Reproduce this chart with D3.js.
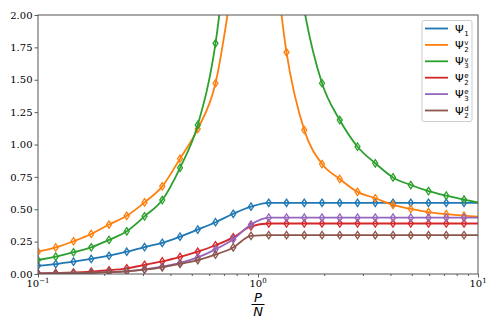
<!DOCTYPE html>
<meta charset="utf-8">
<head>
	<title>Psi overlaps vs P/N</title>
	<script src="https://cdn.jsdelivr.net/npm/d3@7"></script>
	<style>
		body { margin: 0; background: #fff; }
		svg { display: block; }
	</style>
</head>
<body>
<script>

	// x values (P/N); the first 25 carry a marker, the last one only closes the line
	const alpha = [0.1, 0.1204, 0.145, 0.1746, 0.2103, 0.2532, 0.3049, 0.3671, 0.4421, 0.5323,
		0.641, 0.7718, 0.9294, 1.1192, 1.3476, 1.6228, 1.9541, 2.3531, 2.8335, 3.412,
		4.1086, 4.9474, 5.9575, 7.1738, 8.6385, 10];
	const markerCount = 25;

	// series (null = gap at the divergence)
	const psi1 = [0.064, 0.077, 0.095, 0.116, 0.141, 0.172, 0.208, 0.24, 0.288, 0.343,
		0.4, 0.465, 0.52, 0.55, 0.55, 0.55, 0.55, 0.55, 0.55, 0.55,
		0.55, 0.55, 0.55, 0.55, 0.55, 0.55];
	const psi2v = [0.172, 0.205, 0.253, 0.309, 0.382, 0.449, 0.553, 0.677, 0.89, 1.12,
		1.473, 2.3, null, 2.9, 1.712, 1.112, 0.849, 0.734, 0.634, 0.585,
		0.533, 0.502, 0.478, 0.462, 0.45, 0.443];
	const psi3v = [0.108, 0.134, 0.168, 0.206, 0.263, 0.33, 0.445, 0.571, 0.82, 1.151,
		1.781, 3.0, null, null, 3.0, 2.04, 1.473, 1.189, 0.983, 0.855,
		0.746, 0.687, 0.64, 0.605, 0.575, 0.552];
	const psi2e = [0.005, 0.008, 0.012, 0.019, 0.029, 0.044, 0.07, 0.097, 0.132, 0.172,
		0.222, 0.283, 0.367, 0.39, 0.39, 0.39, 0.39, 0.39, 0.39, 0.39,
		0.39, 0.39, 0.39, 0.39, 0.39, 0.39];
	const psi3e = [0.003, 0.004, 0.006, 0.009, 0.014, 0.022, 0.036, 0.056, 0.085, 0.128,
		0.19, 0.268, 0.382, 0.435, 0.435, 0.435, 0.435, 0.435, 0.435, 0.435,
		0.435, 0.435, 0.435, 0.435, 0.435, 0.435];
	const psi2d = [0.003, 0.004, 0.006, 0.009, 0.014, 0.021, 0.034, 0.052, 0.078, 0.108,
		0.15, 0.205, 0.295, 0.3, 0.3, 0.3, 0.3, 0.3, 0.3, 0.3,
		0.3, 0.3, 0.3, 0.3, 0.3, 0.3];

	const seriesValues = [psi1, psi2v, psi3v, psi2e, psi3e, psi2d];
	const legendSub = ['1', '2', '3', '2', '3', '2'];
	const legendSup = ['', 'v', 'v', 'e', 'e', 'd'];
	const colors = ['#1f77b4', '#ff7f0e', '#2ca02c', '#d62728', '#9467bd', '#8c564b'];

	const yTicks = [0, 0.25, 0.5, 0.75, 1, 1.25, 1.5, 1.75, 2];
	const xMajor = [0.1, 1, 10];
	const xMajorExp = ['\u22121', '0', '1'];

	const W = 498, H = 332;
	const margin = {top: 15, right: 20, bottom: 58, left: 38};
	const width = W - margin.left - margin.right;
	const height = H - margin.top - margin.bottom;

	const svg = d3.select('body').append('svg')
		.attr('width', W)
		.attr('height', H);

	const x = d3.scaleLog().domain([0.1, 10]).range([0, width]);
	const y = d3.scaleLinear().domain([0, 2]).range([height, 0]);

	const g = svg.append('g')
		.attr('transform', `translate(${margin.left},${margin.top})`);

	svg.append('defs').append('clipPath')
		.attr('id', 'plotclip')
		.append('rect')
		.attr('width', width)
		.attr('height', height);

	// minor x ticks
	const minor = [];
	[0.1, 1].forEach(b => { for (let k = 2; k <= 9; k++) minor.push(b * k); });

	const xAxis = d3.axisBottom(x).tickValues(xMajor).tickFormat('').tickSize(3.5);
	const xMinor = d3.axisBottom(x).tickValues(minor).tickFormat('').tickSize(2);
	const yAxis = d3.axisLeft(y).tickValues(yTicks).tickFormat(d3.format('.2f')).tickSize(3.5).tickPadding(2);

	g.append('g').attr('transform', `translate(0,${height})`).call(xMinor)
		.call(a => a.select('.domain').remove());
	const gx = g.append('g').attr('transform', `translate(0,${height})`).call(xAxis);
	gx.select('.domain').remove();

	const gy = g.append('g').call(yAxis);
	gy.select('.domain').remove();
	gy.selectAll('text')
		.style('font-family', '"DejaVu Serif", serif')
		.style('font-size', '10px')
		.attr('fill', '#000');

	g.selectAll('.tick line').attr('stroke', '#333').attr('stroke-width', 0.8);

	// log tick labels 10^n
	const xl = g.append('g').attr('class', 'xlabels');
	xMajor.forEach((v, i) => {
		const t = xl.append('text')
			.attr('x', x(v))
			.attr('y', height + 13)
			.attr('text-anchor', 'middle')
			.style('font-family', '"DejaVu Serif", serif')
			.style('font-size', '10px');
		t.append('tspan').text('10');
		t.append('tspan').attr('dy', -4.5).style('font-size', '7px').text(xMajorExp[i]);
	});

	// x label P / N
	const lx = margin.left + width / 2;
	svg.append('text')
		.attr('x', lx).attr('y', 301.5)
		.attr('text-anchor', 'middle')
		.style('font-family', '"DejaVu Sans", sans-serif')
		.style('font-style', 'italic')
		.style('font-size', '13px')
		.text('P');
	svg.append('line')
		.attr('x1', lx - 6.5).attr('x2', lx + 6.5)
		.attr('y1', 304.5).attr('y2', 304.5)
		.attr('stroke', '#000').attr('stroke-width', 1);
	svg.append('text')
		.attr('x', lx).attr('y', 315.5)
		.attr('text-anchor', 'middle')
		.style('font-family', '"DejaVu Sans", sans-serif')
		.style('font-style', 'italic')
		.style('font-size', '13px')
		.text('N');

	// curves
	const plot = g.append('g').attr('clip-path', 'url(#plotclip)');

	const line = d3.line()
		.defined(d => d.v !== null)
		.x(d => x(d.a))
		.y(d => y(d.v))
		.curve(d3.curveMonotoneX);

	const diamond = 'M0,-3.7L2.5,0L0,3.7L-2.5,0Z';

	seriesValues.forEach((vals, s) => {
		const pts = alpha.map((a, i) => ({a: a, v: vals[i], i: i}));
		plot.append('path')
			.datum(pts)
			.attr('d', line)
			.attr('fill', 'none')
			.attr('stroke', colors[s])
			.attr('stroke-width', 1.8);
		plot.append('g')
			.selectAll('path')
			.data(pts.filter(d => d.i < markerCount && d.v !== null))
			.enter().append('path')
				.attr('d', diamond)
				.attr('transform', d => `translate(${x(d.a)},${y(d.v)})`)
				.attr('fill', 'none')
				.attr('stroke', colors[s])
				.attr('stroke-width', 1.3);
	});

	// frame
	g.append('rect')
		.attr('width', width)
		.attr('height', height)
		.attr('fill', 'none')
		.attr('stroke', '#555')
		.attr('stroke-width', 1);

	// legend
	const leg = g.append('g').attr('transform', `translate(${422 - margin.left},${20.5 - margin.top})`);
	leg.append('rect')
		.attr('width', 50)
		.attr('height', 101)
		.attr('rx', 2)
		.attr('fill', 'rgba(255,255,255,0.8)')
		.attr('stroke', '#ccc')
		.attr('stroke-width', 1);

	colors.forEach((c, k) => {
		const ry = 8 + k * 16.4;
		leg.append('line')
			.attr('x1', 3).attr('x2', 26)
			.attr('y1', ry).attr('y2', ry)
			.attr('stroke', c)
			.attr('stroke-width', 1.8);
		const psi = leg.append('text')
			.attr('x', 33).attr('y', ry + 4)
			.style('font-family', '"DejaVu Sans", sans-serif')
			.style('font-size', '11px')
			.text('\u03A8');
		const w = psi.node().getComputedTextLength();
		leg.append('text')
			.attr('x', 33 + w + 0.5).attr('y', ry + 7)
			.style('font-family', '"DejaVu Sans", sans-serif')
			.style('font-size', '7px')
			.text(legendSub[k]);
		if (legendSup[k]) {
			leg.append('text')
				.attr('x', 33 + w + 0.5).attr('y', ry + 0.2)
				.style('font-family', '"DejaVu Sans", sans-serif')
				.style('font-size', '7px')
				.text(legendSup[k]);
		}
	});

</script>
</body>
</html>
